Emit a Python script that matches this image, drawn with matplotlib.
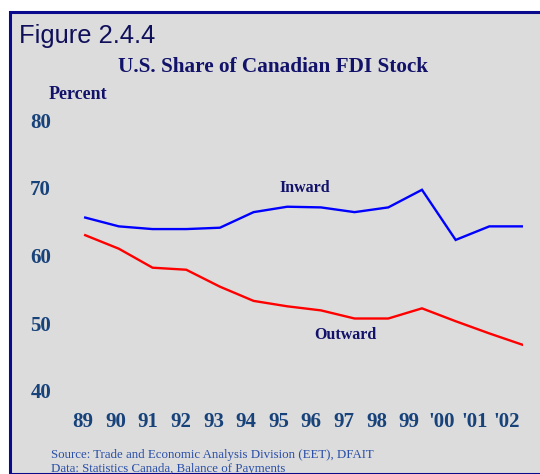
import numpy as np
import matplotlib
matplotlib.use("Agg")
import matplotlib.pyplot as plt
from matplotlib.patches import Rectangle

# Years on the horizontal axis and their labels
years = np.arange(1989, 2003)
year_labels = ["89", "90", "91", "92", "93", "94", "95", "96", "97", "98",
               "99", "'00", "'01", "'02"]

# U.S. share of Canadian FDI stock, percent
inward = [65.6, 64.3, 63.9, 63.9, 64.1, 66.4, 67.2, 67.1, 66.4, 67.1,
          69.7, 62.3, 64.3, 64.3]
outward = [63.0, 61.0, 58.2, 57.9, 55.4, 53.3, 52.5, 51.9, 50.7, 50.7,
           52.2, 50.3, 48.5, 46.8]

y_ticks = [40, 50, 60, 70, 80]

NAVY = "#12126a"
TICK = "#17427a"
SRC = "#2a4fa8"
SERIF = ["Liberation Serif", "DejaVu Serif"]
SANS = ["Liberation Sans", "DejaVu Sans"]

W, H = 540, 474
fig = plt.figure(figsize=(W / 100, H / 100), dpi=100, facecolor="white")

# Framed grey panel
fig.patches.append(Rectangle((10 / W, 0), 1.0, (H - 12) / H,
                             transform=fig.transFigure, facecolor="#dcdcdc",
                             edgecolor="#0a0a8c", linewidth=2.2, zorder=0))

ax = fig.add_axes([83 / W, (H - 391) / H, (523 - 83) / W, (391 - 120) / H])
ax.set_zorder(2)
ax.set_facecolor("none")
for s in ax.spines.values():
    s.set_visible(False)

ax.plot(years, inward, color="#0000ff", lw=1.7, solid_joinstyle="miter")
ax.plot(years, outward, color="#ff0000", lw=1.7, solid_joinstyle="miter")

ax.set_xlim(years[0], years[-1])
ax.set_ylim(40, 80)

# Category labels sit on a slightly tighter pitch than the plotted points
label_pos = np.linspace(years[0] - 0.065, years[-1] - 0.48, len(years))
ax.set_xticks(label_pos)
ax.set_xticklabels(year_labels)
ax.set_yticks(y_ticks)
ax.set_yticklabels([str(v) for v in y_ticks])
ax.tick_params(length=0, labelcolor=TICK, labelsize=15)
ax.tick_params(axis="y", pad=23)
ax.tick_params(axis="x", pad=15)
for lab in ax.get_xticklabels() + ax.get_yticklabels():
    lab.set_fontfamily(SERIF)
    lab.set_fontweight("bold")

ax.text(1989 + (304 - 83) / 33.85, 70.0, "Inward", ha="center", va="center",
        fontsize=11.5, fontweight="bold", family=SERIF, color=NAVY)
ax.text(1989 + (345 - 83) / 33.85, 48.3, "Outward", ha="center", va="center",
        fontsize=11.5, fontweight="bold", family=SERIF, color=NAVY)

fig.text(19 / W, 1 - 43 / H, "Figure 2.4.4", ha="left", va="baseline",
         fontsize=18.4, family=SANS, color="#0f0f5a")
fig.text(273 / W, 1 - 72 / H, "U.S. Share of Canadian FDI Stock", ha="center",
         va="baseline", fontsize=15.3, fontweight="bold", family=SERIF, color=NAVY)
fig.text(49 / W, 1 - 99 / H, "Percent", ha="left", va="baseline",
         fontsize=13, fontweight="bold", family=SERIF, color=NAVY)
fig.text(51 / W, 1 - 458 / H,
         "Source: Trade and Economic Analysis Division (EET), DFAIT",
         ha="left", va="baseline", fontsize=9.3, family=SERIF, color=SRC)
fig.text(51 / W, 1 - 472 / H, "Data: Statistics Canada, Balance of Payments",
         ha="left", va="baseline", fontsize=9.3, family=SERIF, color=SRC)

fig.savefig("out.png", dpi=100, facecolor="white")
